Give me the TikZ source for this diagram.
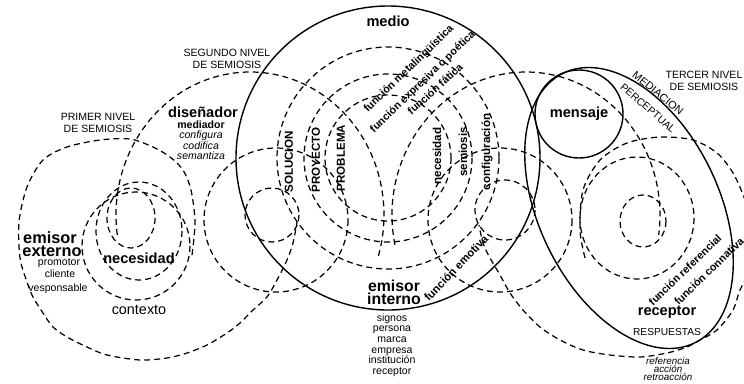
\documentclass[tikz,border=0pt]{standalone}
\usepackage{fontspec}
\setmainfont{Liberation Sans}
\usetikzlibrary{positioning}
\begin{document}
\begin{tikzpicture}[x=0.02cm, y=-0.02cm,
    every node/.style={inner sep=0pt, font=\fontsize{6}{6.8}\selectfont},
    ring/.style={line width=0.7pt, dash pattern=on 3.4pt off 2.3pt},
    rim/.style={line width=0.8pt},
    big/.style={font=\fontsize{8.3}{9}\selectfont\bfseries},
    vlabel/.style={rotate=90, font=\fontsize{6.6}{7}\selectfont\bfseries},
    flabel/.style={rotate=44, font=\fontsize{6.1}{7}\selectfont\bfseries},
    level/.style={align=center, font=\fontsize{6}{6.7}\selectfont},
  ]
  \useasboundingbox (0,0) rectangle (744,383);

  % solid outlines: medio, mediacion perceptual, mensaje
  \draw[rim] (388,158) circle[radius=152];
  \draw[rim, rotate around={-64:(629,208)}] (629,208) ellipse[x radius=150, y radius=90];
  \draw[rim] (579,114) circle[radius=44];

  % first level of semiosis
  \draw[ring] plot[smooth] coordinates {(192,255) (195,222) (191,190) (183,170)
    (170,157) (153,147) (130,139) (100,140) (67,147) (43,160) (27,187) (19,222)
    (20,258) (27,282) (33,297) (43,313) (53,327) (67,337) (87,347) (107,355)
    (140,360) (167,358) (187,353) (207,345) (227,333) (240,323) (253,310)
    (267,297) (277,280) (287,260) (293,243) (297,222)};
  \draw[ring] (131,218) ellipse[x radius=24, y radius=30];
  \draw[ring] (139,231) ellipse[x radius=43, y radius=49];
  \draw[ring] (136,246) circle[radius=54];

  % second level of semiosis
  \draw[ring] (250,215) ++(172:134 and 143) arc[start angle=172, end angle=378, x radius=134, y radius=143];
  \draw[ring] (526,215) ++(168:134 and 143) arc[start angle=168, end angle=368, x radius=134, y radius=143];
  \foreach \r in {111,84,63}
    \draw[ring] (388,158) circle[radius=\r];
  \draw[ring] (272,215) circle[radius=27];
  \draw[ring] (276,220) circle[radius=72];
  \draw[ring] (505,210) circle[radius=30];
  \draw[ring] (500,220) circle[radius=72];

  % third level of semiosis
  \draw[ring] plot[smooth] coordinates {(585,258) (580,230) (583,190) (600,160)
    (627,143) (660,137) (693,140) (717,153) (733,173) (745,200) (752,230)};
  \draw[ring] plot[smooth] coordinates {(752,268) (740,290) (733,310) (717,330)
    (700,340) (687,347) (667,353) (640,357) (610,355) (583,350) (560,340)
    (540,327) (523,310) (510,293) (500,275) (490,258) (483,243) (479,225)};
  \draw[ring] (643,221) ellipse[x radius=23, y radius=26];
  \draw[ring] (637,218) ellipse[x radius=57, y radius=61];

  % level titles
  \node[level] (prim) at (98,123) {PRIMER NIVEL\\DE SEMIOSIS};
  \node[level, font=\fontsize{6}{6.9}\selectfont] (seg) at (227,59) {SEGUNDO NIVEL\\DE SEMIOSIS};
  \node[level, font=\fontsize{6}{6.9}\selectfont] (terc) at (704,81) {TERCER NIVEL\\DE SEMIOSIS};
  \node[rotate=-39, font=\fontsize{6.2}{7}\selectfont] (mediacion) at (658,93) {MEDIACION};
  \node[rotate=-41, font=\fontsize{5.9}{7}\selectfont] (perceptual) at (648,108) {PERCEPTUAL};

  % first level labels
  \node[big, font=\fontsize{9.3}{10}\selectfont\bfseries] (emisorext) at (50,238) {emisor};
  \node[big, font=\fontsize{9.3}{10}\selectfont\bfseries] (externo) at (52,251) {externo};
  \node (promotor) at (59,263) {promotor};
  \node (cliente) at (60,274) {cliente};
  \node (vesponsable) at (58,289) {vesponsable};
  \node[big] (necesidad) at (139,258) {necesidad};
  \node[font=\fontsize{8.2}{9}\selectfont] (contexto) at (139,310) {contexto};

  % designer
  \node[big] (disenador) at (203,112) {diseñador};
  \node[font=\fontsize{6}{7}\selectfont\bfseries] (mediador) at (201,125) {mediador};
  \node[font=\fontsize{6}{7}\selectfont\itshape] (configura) at (201,136) {configura};
  \node[font=\fontsize{6}{7}\selectfont\itshape] (codifica) at (201,146) {codifica};
  \node[font=\fontsize{6}{7}\selectfont\itshape] (semantiza) at (201,156) {semantiza};

  % medio
  \node[big] (medio) at (388,21) {medio};
  \node[vlabel] (solucion) at (289,162) {SOLUCION};
  \node[vlabel] (proyecto) at (316,160) {PROYECTO};
  \node[vlabel] (problema) at (341,158) {PROBLEMA};
  \node[vlabel] (necesidadm) at (437,156) {necesidad};
  \node[vlabel] (semiosis) at (463,152) {semiosis};
  \node[vlabel] (configuracion) at (487,152) {configuración};
  \node[flabel] (fmeta) at (409,69) {función metalingüística};
  \node[flabel] (fexpr) at (423,82) {función expresiva o poética};
  \node[flabel, rotate=-2] (ffatica) at (435,89) {función fática};
  \node[flabel, font=\fontsize{6.4}{7}\selectfont\bfseries, rotate=2] (femotiva) at (456,268) {función emotiva};
  \node[big, font=\fontsize{9}{10}\selectfont\bfseries] (emisorint) at (394,286) {emisor};
  \node[big, font=\fontsize{9}{10}\selectfont\bfseries] (interno) at (394,299) {interno};
  \node[level, font=\fontsize{6}{6}\selectfont] (signos) at (392,345)
    {signos\\persona\\marca\\empresa\\institución\\receptor};

  % third level labels
  \node[big] (mensaje) at (579,114) {mensaje};
  \node[flabel] (fref) at (685,270) {función referencial};
  \node[flabel] (fconn) at (709,271) {función connativa};
  \node[big] (receptor) at (667,312) {receptor};
  \node[font=\fontsize{5.8}{7}\selectfont] (respuestas) at (667,332) {RESPUESTAS};
  \node[level, font=\fontsize{5.6}{4.3}\selectfont\itshape] (retro) at (668,369)
    {referencia\\acción\\retroacción};
\end{tikzpicture}
\end{document}
